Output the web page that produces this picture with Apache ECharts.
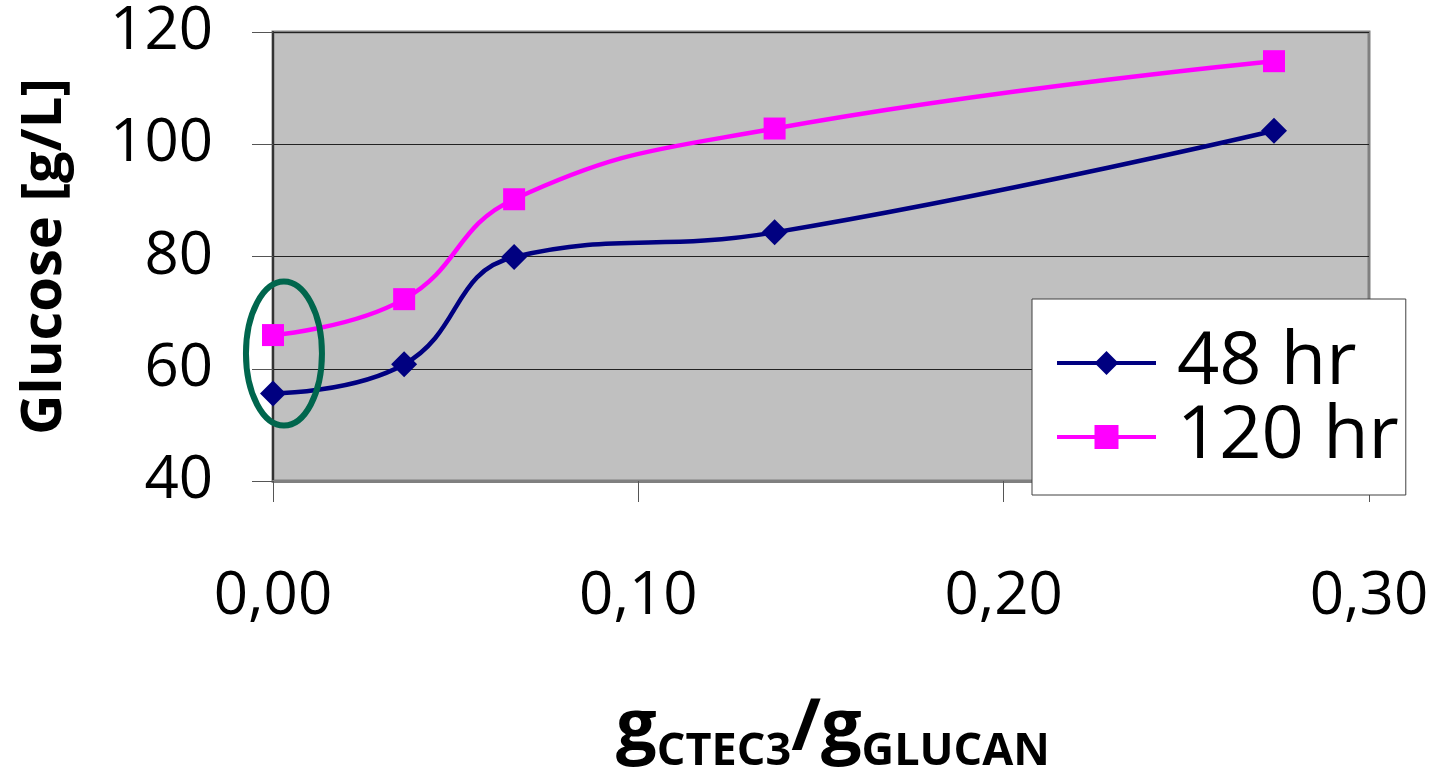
<!DOCTYPE html>
<html>
<head>
<meta charset="utf-8">
<script src="https://cdn.jsdelivr.net/npm/echarts@6/dist/echarts.min.js"></script>
<style>
html,body{margin:0;padding:0;background:#fff;}
#c{width:1438px;height:780px;}
</style>
</head>
<body>
<div id="c"></div>
<script>
// ---- data ----
var ratio = [0.0000, 0.0359, 0.0660, 0.1373, 0.2740];
var glucose48 = [55.6, 60.8, 79.9, 84.3, 102.4];
var glucose120 = [66.0, 72.4, 90.2, 102.8, 114.8];
var seriesNames = ['48 hr', '120 hr'];
var xTicks = [0, 0.1, 0.2, 0.3];
var yTicks = [40, 60, 80, 100, 120];
// annotation ellipse centre (data units)
var ellipseCentre = [0.003, 62.7];

var chart = echarts.init(document.getElementById('c'));
function pairs(xs, ys){ return xs.map(function(x,i){ return [x, ys[i]]; }); }
var FONT = '"Open Sans", "Noto Sans", sans-serif';

chart.setOption({
  animation: false,
  backgroundColor: '#ffffff',
  grid: {
    left: 273, top: 32, right: 69, bottom: 296,
    show: true, backgroundColor: '#C0C0C0', borderColor: '#808080', borderWidth: 3
  },
  xAxis: {
    type: 'value', min: xTicks[0], max: xTicks[xTicks.length-1], interval: 0.1,
    axisLine: { show: true, onZero: false, lineStyle: { color: '#808080', width: 3 } },
    axisTick: { show: true, length: 21, lineStyle: { color: '#555', width: 1 } },
    splitLine: { show: false },
    axisLabel: {
      margin: 86, fontFamily: FONT, fontSize: 60, color: '#000',
      formatter: function(v){ return v.toFixed(2).replace('.', ','); }
    },
    name: '{g|g}{s|CTEC3}{g|/g}{s|GLUCAN}',
    nameLocation: 'middle', nameGap: 212,
    nameTextStyle: {
      padding: [0, 0, 0, 24],
      rich: {
        g: { fontFamily: FONT, fontWeight: 'bold', fontSize: 72, color: '#000' },
        s: { fontFamily: FONT, fontWeight: 'bold', fontSize: 45, color: '#000', verticalAlign: 'bottom', padding: [0,0,-10,0] }
      }
    }
  },
  yAxis: {
    type: 'value', min: yTicks[0], max: yTicks[yTicks.length-1], interval: 20,
    axisLine: { show: true, lineStyle: { color: '#333', width: 2 } },
    axisTick: { show: true, length: 21, lineStyle: { color: '#555', width: 1 } },
    splitLine: { show: true, lineStyle: { color: '#222', width: 1 } },
    axisLabel: { margin: 60, fontFamily: FONT, fontSize: 60, color: '#000' },
    name: 'Glucose [g/L]', nameLocation: 'middle', nameRotate: 90, nameGap: 200,
    nameTextStyle: { fontFamily: FONT, fontWeight: 'bold', fontSize: 56, color: '#000' }
  },
  legend: {
    left: 1032, top: 299, orient: 'vertical',
    backgroundColor: '#ffffff', borderColor: '#404040', borderWidth: 1,
    padding: [27, 7, 21, 23], itemGap: 0,
    itemWidth: 99, itemHeight: 30,
    lineStyle: { width: 4 },
    textStyle: { fontFamily: FONT, fontSize: 74, color: '#000', lineHeight: 74, padding: [0,0,0,16] },
    data: seriesNames
  },
  series: [
    {
      name: seriesNames[0], type: 'line', data: pairs(ratio, glucose48), smooth: 0.45,
      symbol: 'diamond', symbolSize: 26,
      lineStyle: { color: '#000080', width: 4.5 }, itemStyle: { color: '#000080' }, z: 3
    },
    {
      name: seriesNames[1], type: 'line', data: pairs(ratio, glucose120), smooth: 0.45,
      symbol: 'rect', symbolSize: 22,
      lineStyle: { color: '#FF00FF', width: 4.5 }, itemStyle: { color: '#FF00FF' }, z: 3
    }
  ]
});

var c = chart.convertToPixel({ gridIndex: 0 }, ellipseCentre);
chart.setOption({
  graphic: [{
    type: 'ellipse', z: 100,
    shape: { cx: c[0], cy: c[1], rx: 38, ry: 72 },
    style: { fill: 'none', stroke: '#00664D', lineWidth: 6 }
  }]
});
</script>
</body>
</html>
